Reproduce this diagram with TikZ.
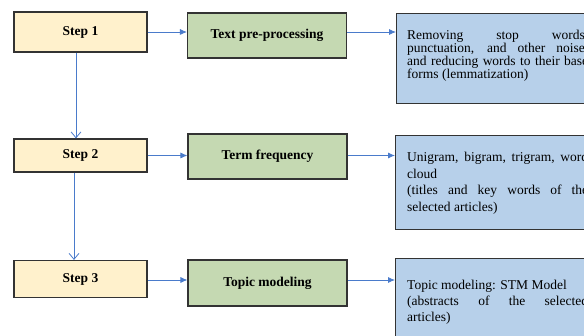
\documentclass[tikz,border=0pt]{standalone}
\usepackage{fontspec}
\setmainfont{Liberation Serif}
\usetikzlibrary{arrows.meta,positioning,calc}
\definecolor{stepfill}{HTML}{FFF1CC}
\definecolor{taskfill}{HTML}{C5D9B2}
\definecolor{descfill}{HTML}{B7D0EA}
\definecolor{boxline}{HTML}{333333}
\definecolor{arrowblue}{HTML}{4A7BCB}
\tikzset{
  stepbox/.style={draw=boxline, line width=1.1pt, fill=stepfill, minimum width=133pt, inner sep=0pt, font=\fontsize{13.5}{15}\selectfont\bfseries},
  taskbox/.style={draw=boxline, line width=1.1pt, fill=taskfill, minimum width=159pt, inner sep=0pt, font=\fontsize{13.5}{15}\selectfont\bfseries},
  descbox/.style={draw=boxline, line width=1.1pt, fill=descfill, minimum width=202pt, inner sep=0pt, anchor=north west},
  desctext/.style={anchor=north west, inner sep=0pt, text width=181pt, align=justify},
  harrow/.style={draw=arrowblue, line width=0.8pt, -{Latex[length=7pt,width=6pt]}},
  varrow/.style={draw=arrowblue, line width=0.8pt, -{Straight Barb[length=6pt,width=10pt]}}
}
\begin{document}
\begin{tikzpicture}[x=1pt,y=-1pt]
\useasboundingbox (0,0) rectangle (584,336);
% steps
\node[stepbox, minimum height=40pt] (s1) at (80.5,32) {Step 1};
\node[stepbox, minimum height=33pt] (s2) at (80.5,155.5) {Step 2};
\node[stepbox, minimum height=37pt] (s3) at (80.5,279) {Step 3};
% tasks
\node[taskbox, minimum height=45pt] (g1) at (267,35.5) {Text pre-processing};
\node[taskbox, minimum height=45pt] (g2) at (267.5,156.5) {Term frequency};
\node[taskbox, minimum height=46pt] (g3) at (267.5,283) {Topic modeling};
% descriptions
\node[descbox, minimum height=90pt] (b1) at (396,13) {};
\node[descbox, minimum height=94pt] (b2) at (395,135) {};
\node[descbox, minimum height=100pt] (b3) at (395,258) {};
\node[desctext, font=\fontsize{13.5}{13}\selectfont] (t1) at (407,30) {Removing stop words,\linebreak punctuation, and other noise,\linebreak and reducing words to their base\linebreak forms (lemmatization)};
\node[desctext, font=\fontsize{13.5}{16.5}\selectfont] (t2) at (407,152) {Unigram, bigram, trigram, word\linebreak cloud\\(titles and key words of the\linebreak selected articles)};
\node[desctext, font=\fontsize{13.5}{15.8}\selectfont] (t3) at (407,280) {Topic modeling: STM Model\\(abstracts of the selected\linebreak articles)};
% horizontal arrows
\draw[harrow] (s1.east) -- (s1.east -| g1.west);
\draw[harrow] (s1.east -| g1.east) -- (s1.east -| b1.west);
\draw[harrow] (s2.east) -- (s2.east -| g2.west);
\draw[harrow] (s2.east -| g2.east) -- (s2.east -| b2.west);
\draw[harrow] ([yshift=-1pt]s3.east) -- ([yshift=-1pt]s3.east -| g3.west);
\draw[harrow] ([yshift=-1pt]s3.east -| g3.east) -- ([yshift=-1pt]s3.east -| b3.west);
% vertical arrows
\draw[varrow] ([xshift=-4.5pt]s1.south) -- ([xshift=-4.5pt]s1.south |- s2.north);
\draw[varrow] ([xshift=-6.5pt]s2.south) -- ([xshift=-6.5pt]s2.south |- s3.north);
\end{tikzpicture}
\end{document}
